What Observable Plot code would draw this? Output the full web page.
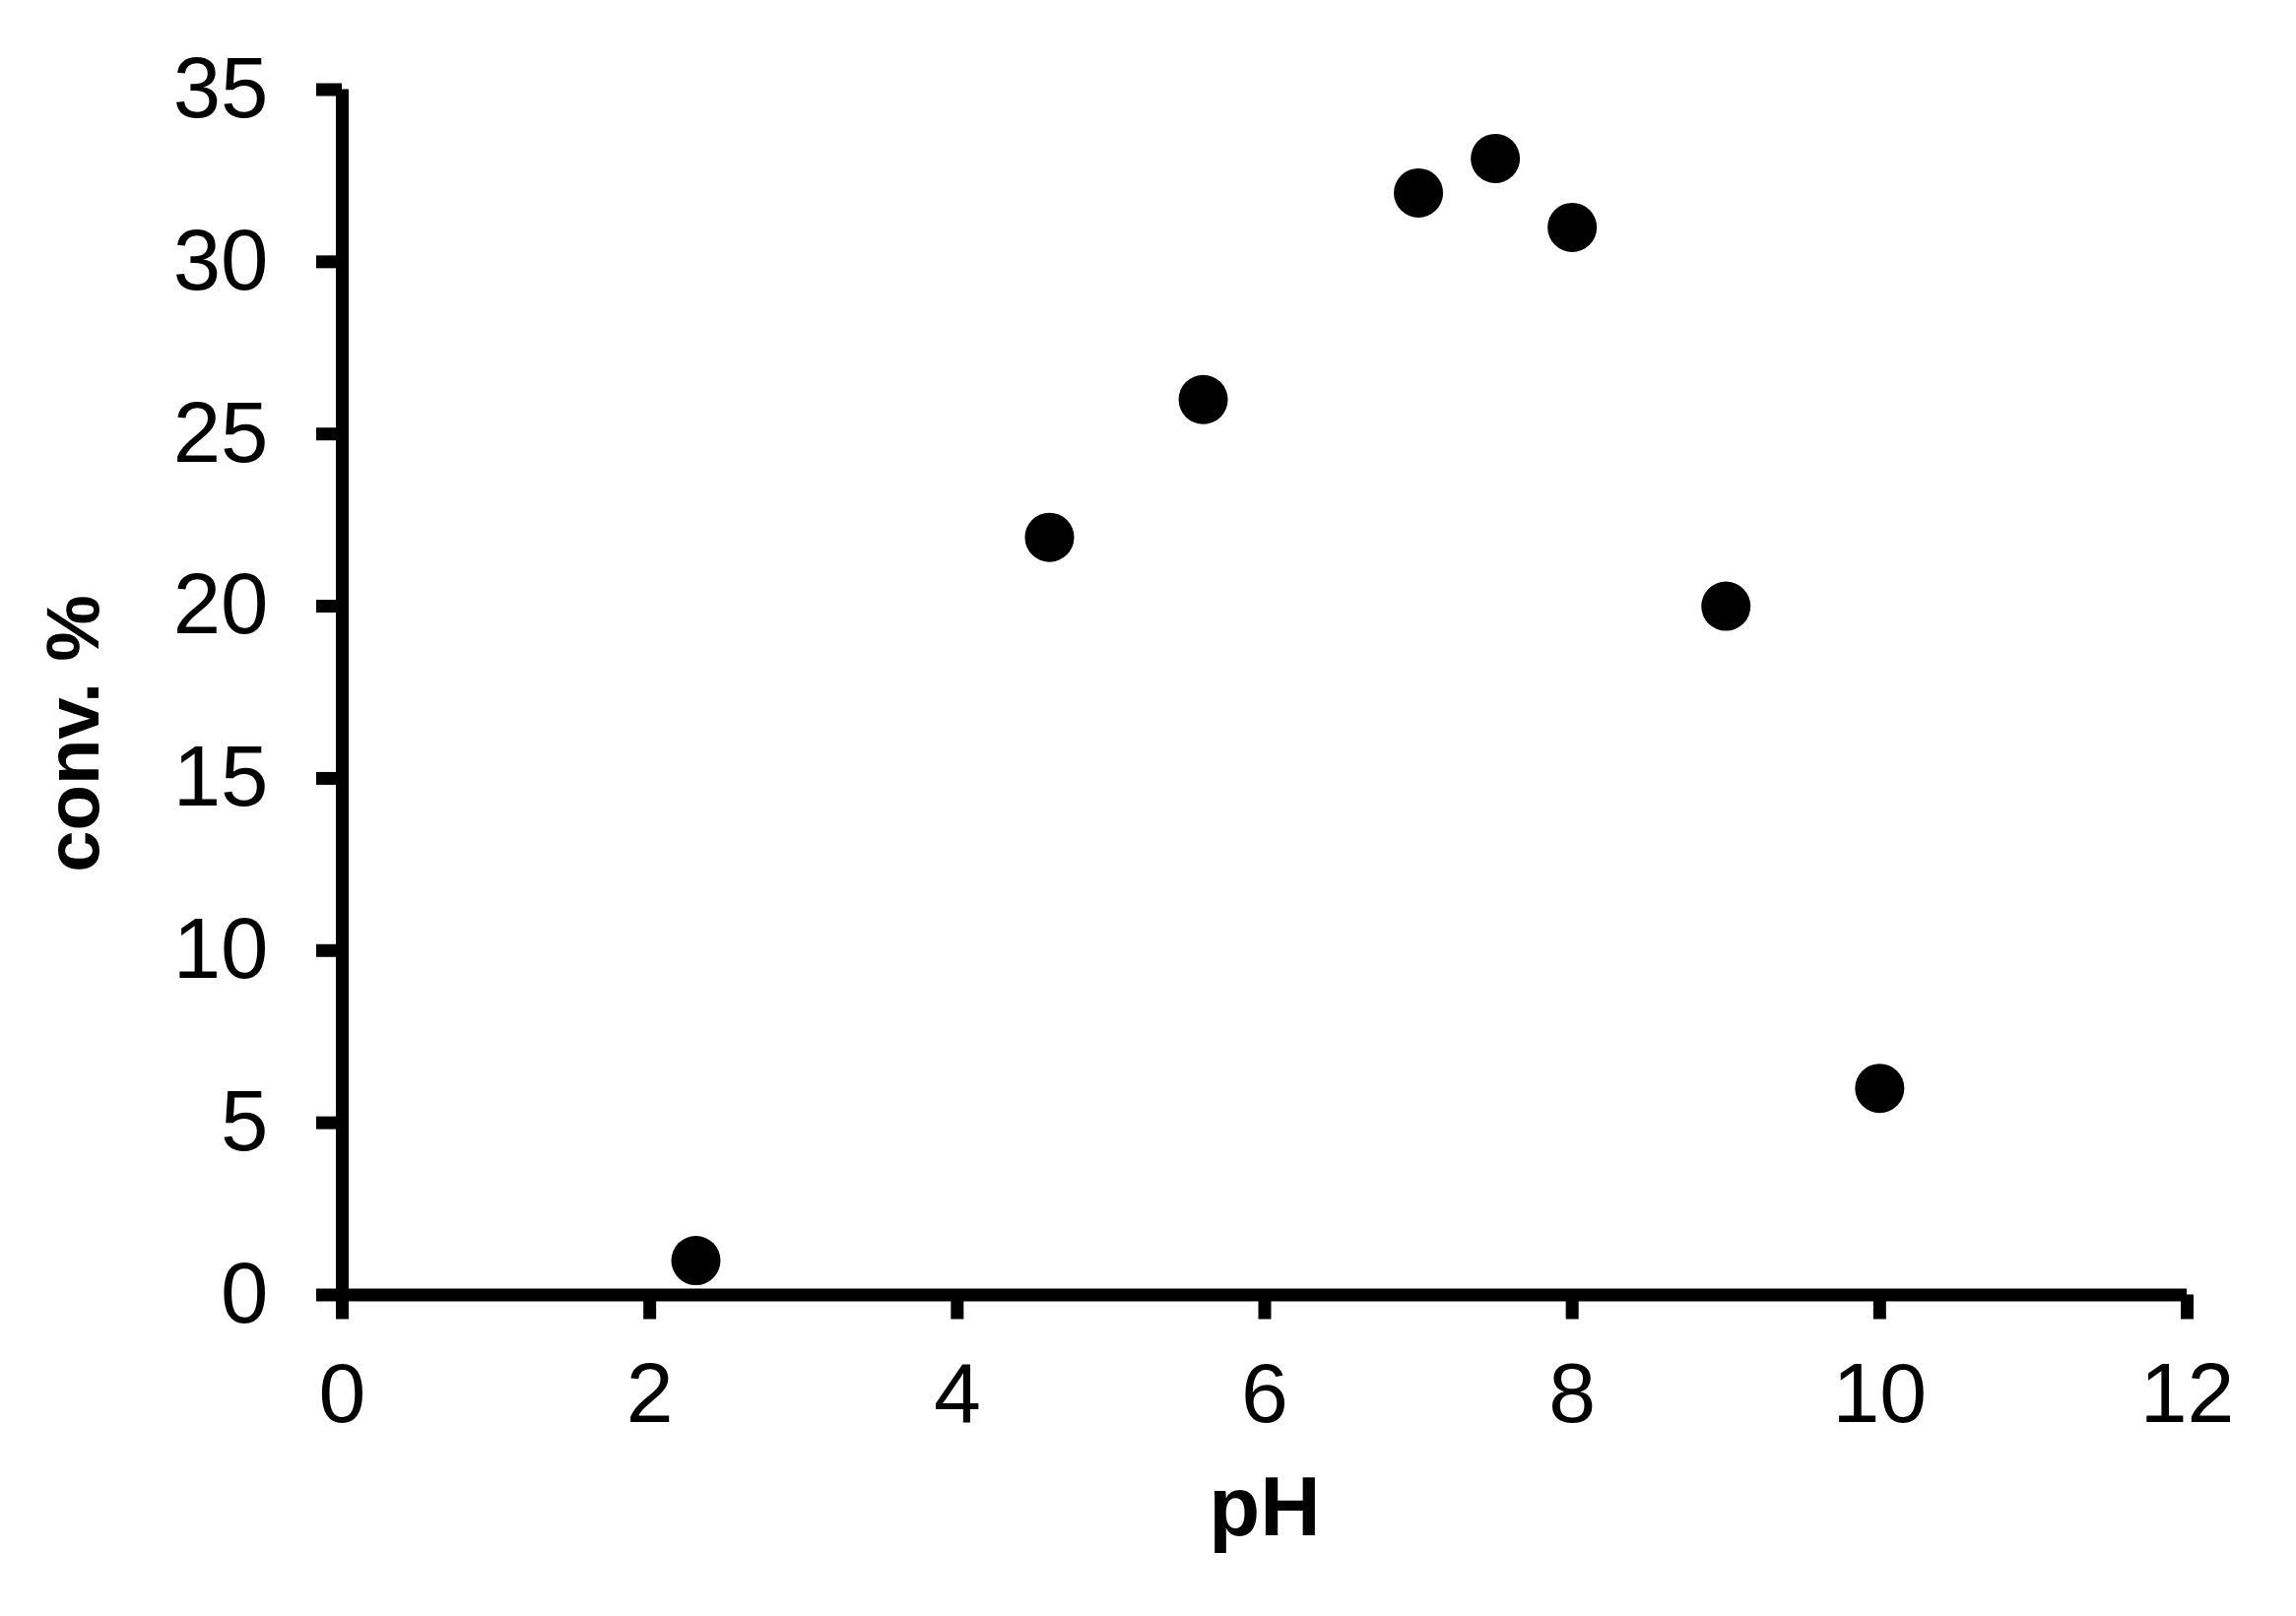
<!DOCTYPE html>
<html>
<head>
<meta charset="utf-8">
<script src="https://cdn.jsdelivr.net/npm/d3@7"></script>
<script src="https://cdn.jsdelivr.net/npm/@observablehq/plot@0.6"></script>
<style>
  html, body { margin: 0; padding: 0; background: #fff; }
  #chart svg { display: block; }
</style>
</head>
<body>
<div id="chart"></div>
<script>
const pH = [2.3, 4.6, 5.6, 7.0, 7.5, 8.0, 9.0, 10.0];
const conv = [1, 22, 26, 32, 33, 31, 20, 6];
const xTicks = [0, 2, 4, 6, 8, 10, 12];
const yTicks = [0, 5, 10, 15, 20, 25, 30, 35];
const xLabel = "pH";
const yLabel = "conv. %";

const data = pH.map((p, i) => ({pH: p, conv: conv[i]}));

const chart = Plot.plot({
  width: 2331,
  height: 1641,
  marginLeft: 347,
  marginRight: 111,
  marginTop: 90.5,
  marginBottom: 326.5,
  style: {fontFamily: "'Liberation Sans', Arial, sans-serif", background: "#fff", color: "#000"},
  x: {domain: [0, 12]},
  y: {domain: [0, 35]},
  marks: [
    Plot.axisX({ticks: xTicks, tickSize: 25, tickPadding: 43, strokeWidth: 13, fontSize: 86, label: null, tickFormat: d => String(d)}),
    Plot.axisY({ticks: yTicks, tickSize: 26, tickPadding: 49, strokeWidth: 13, fontSize: 87, label: null, tickFormat: d => String(d)}),
    Plot.ruleY([0], {stroke: "#000", strokeWidth: 13}),
    Plot.ruleX([0], {stroke: "#000", strokeWidth: 13}),
    Plot.dot(data, {x: "pH", y: "conv", r: 25, fill: "#000", stroke: "none"}),
    Plot.text([xLabel], {frameAnchor: "bottom", text: d => d, textAnchor: "middle", lineAnchor: "middle", dy: 217, fontSize: 85, fontWeight: "bold", fill: "#000"}),
    Plot.text([yLabel], {frameAnchor: "left", text: d => d, textAnchor: "middle", lineAnchor: "middle", rotate: -90, dx: -272, dy: 42, fontSize: 76, fontWeight: "bold", fill: "#000"})
  ]
});
document.getElementById("chart").appendChild(chart);
</script>
</body>
</html>
